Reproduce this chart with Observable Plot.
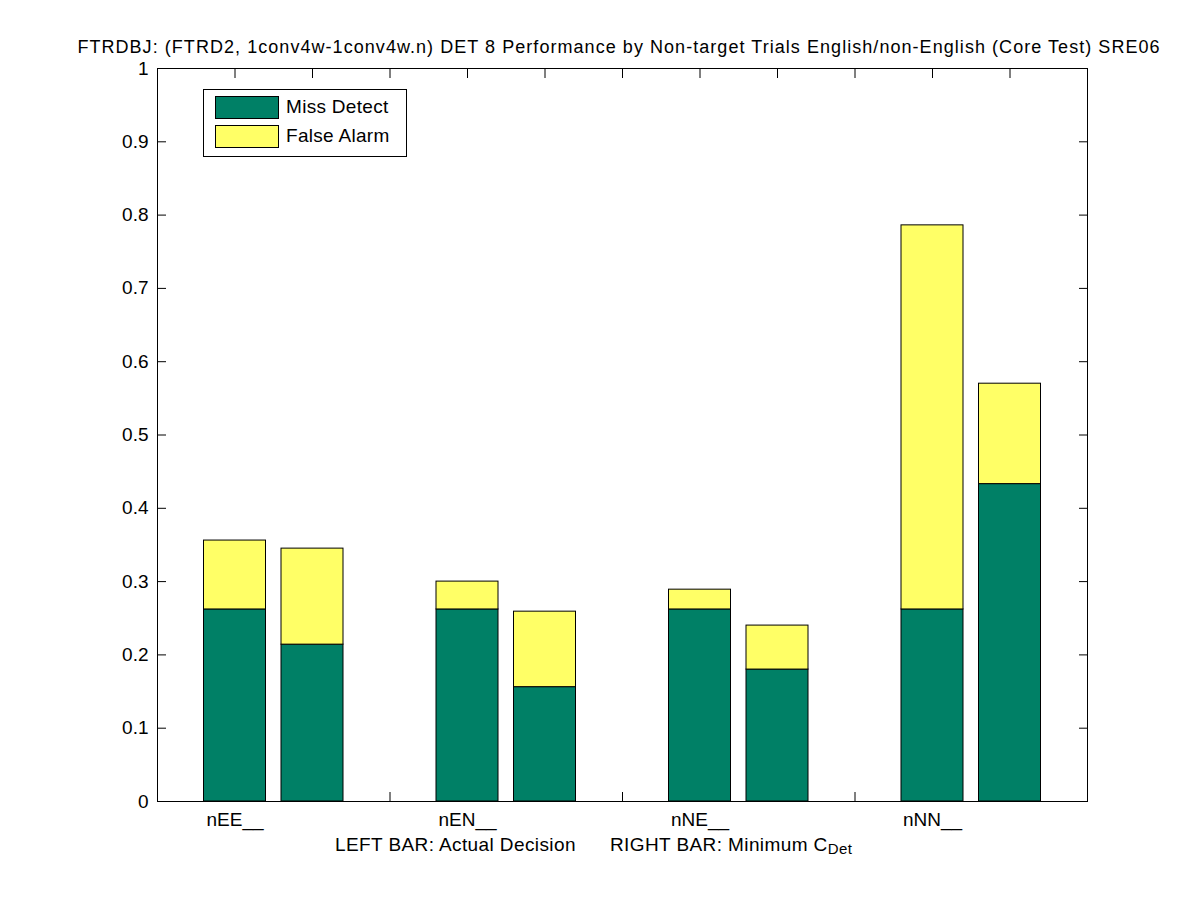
<!DOCTYPE html>
<html>
<head>
<meta charset="utf-8">
<script src="https://cdn.jsdelivr.net/npm/d3@7"></script>
<script src="https://cdn.jsdelivr.net/npm/@observablehq/plot@0.6"></script>
<style>
  body { margin: 0; background: #fff; font-family: "Liberation Sans", Arial, sans-serif; }
  #wrap { position: relative; width: 1201px; height: 900px; overflow: hidden; }
  #title { position: absolute; left: 0; width: 1238px; top: 37px; text-align: center; font-size: 18px; letter-spacing: 1.05px; white-space: nowrap; color: #000; }
  #xlabel { position: absolute; left: 335px; top: 834px; font-size: 19px; letter-spacing: 0.4px; white-space: pre; color: #000; }
  #xlabel sub { font-size: 15px; position: relative; top: 3px; vertical-align: baseline; }
  #legend { position: absolute; left: 203px; top: 89px; width: 202px; height: 66px; border: 1px solid #000; background: #fff; }
  .sw { position: absolute; left: 11px; width: 62px; height: 21px; border: 1px solid #000; }
  .lt { position: absolute; left: 82px; font-size: 19px; letter-spacing: 0.3px; line-height: 22px; }
</style>
</head>
<body>
<div id="wrap">
  <div id="chart"></div>
  <div id="title"></div>
  <div id="xlabel"></div>
  <div id="legend"></div>
</div>
<script>
const titleText = "FTRDBJ: (FTRD2, 1conv4w-1conv4w.n) DET 8 Performance by Non-target Trials English/non-English (Core Test) SRE06";
const categories = ["nEE__", "nEN__", "nNE__", "nNN__"];
const seriesNames = ["Miss Detect", "False Alarm"];
const seriesColors = ["#008066", "#ffff66"];
// LEFT BAR: Actual Decision
const actualMiss = [0.262, 0.262, 0.262, 0.262];
const actualFA   = [0.094, 0.038, 0.027, 0.524];
// RIGHT BAR: Minimum C_Det
const minMiss = [0.214, 0.156, 0.180, 0.433];
const minFA   = [0.131, 0.103, 0.060, 0.137];
const yTicks = [0, 0.1, 0.2, 0.3, 0.4, 0.5, 0.6, 0.7, 0.8, 0.9, 1];
const yTickLabels = ["0", "0.1", "0.2", "0.3", "0.4", "0.5", "0.6", "0.7", "0.8", "0.9", "1"];
const xTicks = [1, 2, 3, 4, 5, 6, 7, 8, 9, 10, 11];

const rows = [];
categories.forEach((c, i) => {
  const bars = [[3 * i + 1, actualMiss[i], actualFA[i]], [3 * i + 2, minMiss[i], minFA[i]]];
  for (const [pos, miss, fa] of bars) {
    rows.push({pos, y1: 0, y2: miss, series: seriesNames[0]});
    rows.push({pos, y1: miss, y2: miss + fa, series: seriesNames[1]});
  }
});
const labelTicks = categories.map((c, i) => 3 * i + 1);

const chart = Plot.plot({
  width: 1201,
  height: 900,
  marginLeft: 157,
  marginRight: 114,
  marginTop: 68,
  marginBottom: 99,
  style: {fontFamily: "Liberation Sans, Arial, sans-serif", fontSize: "18px", background: "#fff", color: "#000"},
  x: {domain: [0, 12], axis: null},
  y: {domain: [0, 1], axis: null},
  color: {domain: seriesNames, range: seriesColors},
  marks: [
    Plot.axisX({anchor: "bottom", ticks: xTicks, tickSize: -9, tickFormat: () => "", label: null, stroke: "#000"}),
    Plot.axisX({anchor: "top", ticks: xTicks, tickSize: -9, tickFormat: () => "", label: null, stroke: "#000"}),
    Plot.axisY({anchor: "left", ticks: yTicks, tickSize: -9, tickFormat: () => "", label: null, stroke: "#000"}),
    Plot.axisY({anchor: "right", ticks: yTicks, tickSize: -9, tickFormat: () => "", label: null, stroke: "#000"}),
    Plot.axisY({anchor: "left", ticks: yTicks, tickSize: 0, tickPadding: 9, tickFormat: (d) => yTickLabels[yTicks.indexOf(d)], label: null, fontSize: 19, fill: "#000"}),
    Plot.axisX({anchor: "bottom", ticks: labelTicks, tickSize: 0, tickPadding: 11, tickFormat: (d) => categories[labelTicks.indexOf(d)], label: null, fontSize: 19, fill: "#000"}),
    Plot.rect(rows, {x1: (d) => d.pos - 0.4, x2: (d) => d.pos + 0.4, y1: "y1", y2: "y2", fill: "series", stroke: "#000", strokeWidth: 1}),
    Plot.frame({stroke: "#000", strokeWidth: 1})
  ]
});
document.getElementById("chart").appendChild(chart);

document.getElementById("title").textContent = titleText;
document.getElementById("xlabel").innerHTML = "LEFT BAR: Actual Decision      RIGHT BAR: Minimum C<sub>Det</sub>";
const legend = document.getElementById("legend");
seriesNames.forEach((name, i) => {
  const sw = document.createElement("div");
  sw.className = "sw";
  sw.style.top = (6 + 29 * i) + "px";
  sw.style.background = seriesColors[i];
  legend.appendChild(sw);
  const t = document.createElement("div");
  t.className = "lt";
  t.style.top = (6 + 29 * i) + "px";
  t.textContent = name;
  legend.appendChild(t);
});
</script>
</body>
</html>
